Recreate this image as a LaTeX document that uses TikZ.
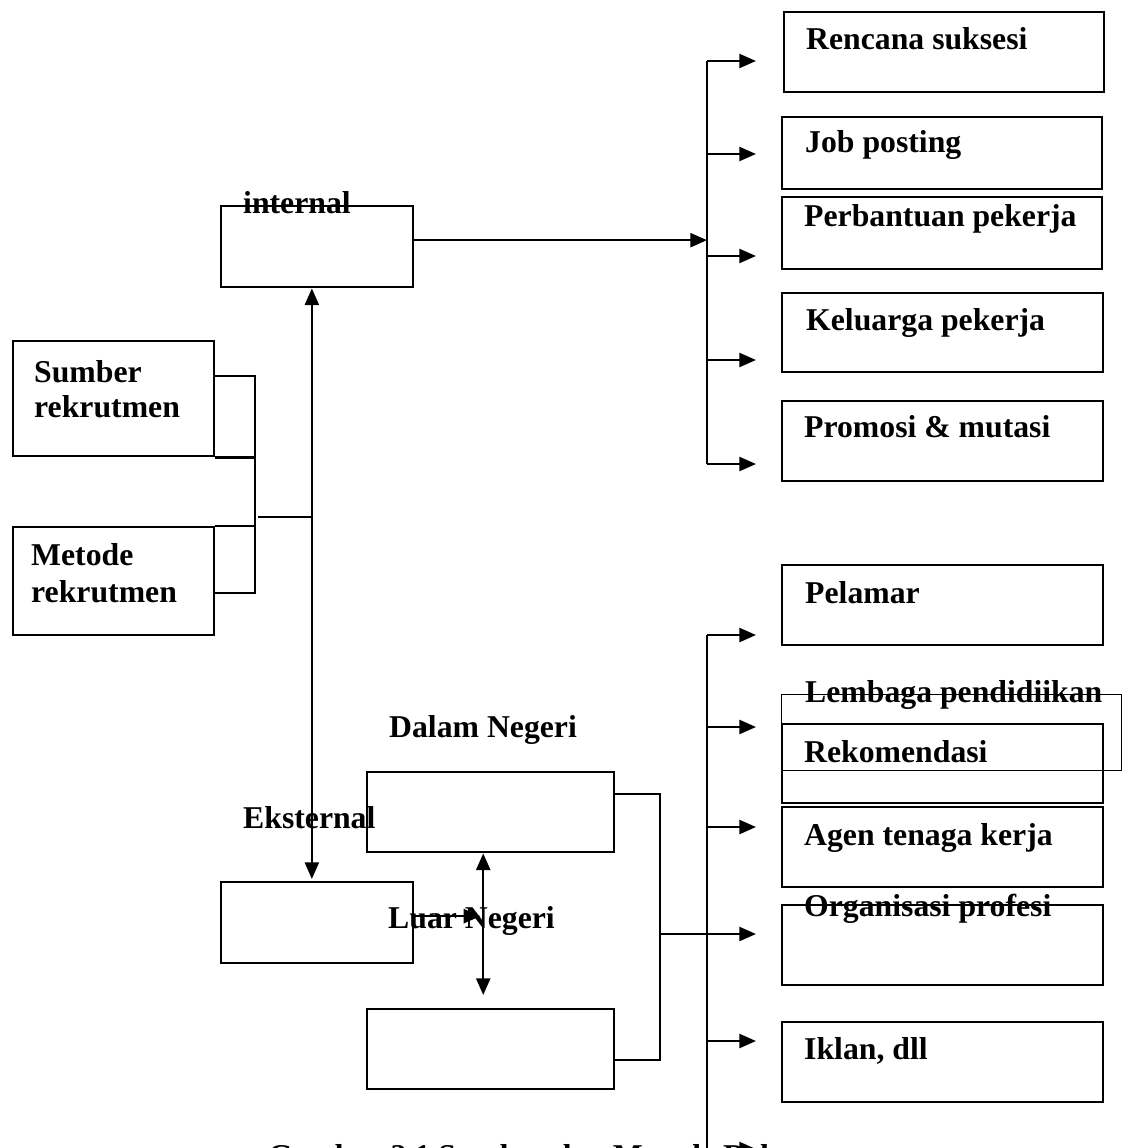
\documentclass[tikz,border=0pt]{standalone}
\usepackage{fontspec}
\setmainfont{Liberation Serif}
\usetikzlibrary{arrows.meta}

\tikzset{
  arr/.style={-{Triangle[length=12.5pt,width=10.5pt]}},
  arrboth/.style={{Triangle[length=12.5pt,width=10.5pt]}-{Triangle[length=12.5pt,width=10.5pt]}},
}

\begin{document}
\begin{tikzpicture}[x=0.75pt,y=-0.75pt,line width=1.8pt,
    font=\fontsize{23.8}{28}\selectfont\bfseries]

  \useasboundingbox (0,0) rectangle (1122,1148);

  % boxes
  \begin{scope}[every node/.style={draw,anchor=north west,inner sep=0pt}]
    \node[minimum width=144pt,minimum height=60.75pt] (internal) at (220,205) {};
    \node[minimum width=144pt,minimum height=60.75pt] (eksternal) at (220,881) {};
    \node[minimum width=150.75pt,minimum height=86.25pt] (sumber) at (12,340) {};
    \node[minimum width=150.75pt,minimum height=81pt] (metode) at (12,526) {};
    \node[minimum width=185.25pt,minimum height=60pt] (dalam) at (366,771) {};
    \node[minimum width=185.25pt,minimum height=60pt] (luar) at (366,1008) {};

    \node[minimum width=240pt,minimum height=60pt] (rencana) at (783,11) {};
    \node[minimum width=240pt,minimum height=54pt] (job) at (781,116) {};
    \node[minimum width=240pt,minimum height=54pt] (perbantuan) at (781,196) {};
    \node[minimum width=240.75pt,minimum height=59.25pt] (keluarga) at (781,292) {};
    \node[minimum width=240.75pt,minimum height=60pt] (promosi) at (781,400) {};

    \node[minimum width=240.75pt,minimum height=60pt] (pelamar) at (781,564) {};
    \node[line width=0.9pt,minimum width=255pt,minimum height=57pt] (lembaga) at (781,694) {};
    \node[minimum width=240.75pt,minimum height=59.25pt] (rekomendasi) at (781,723) {};
    \node[minimum width=240.75pt,minimum height=60pt] (agen) at (781,806) {};
    \node[minimum width=240.75pt,minimum height=60pt] (organisasi) at (781,904) {};
    \node[minimum width=240.75pt,minimum height=60pt] (iklan) at (781,1021) {};
  \end{scope}

  % labels
  \begin{scope}[every node/.style={anchor=base west,inner sep=0pt}]
    \node (internallbl) at (242,214) {internal};
    \node (eksternallbl) at (242,828) {Eksternal};
    \node (sumberlbl) at (33,382) {Sumber};
    \node (sumberlbl2) at (33,417) {rekrutmen};
    \node (metodelbl) at (30,565) {Metode};
    \node (metodelbl2) at (30,602) {rekrutmen};
    \node (dalamlbl) at (388,737) {Dalam Negeri};
    \node (luarlbl) at (387,928) {Luar Negeri};

    \node (rencanalbl) at (805,50) {Rencana suksesi};
    \node (joblbl) at (804,153) {Job posting};
    \node (perbantuanlbl) at (803,227) {Perbantuan pekerja};
    \node (keluargalbl) at (805,330) {Keluarga pekerja};
    \node (promosilbl) at (803,437) {Promosi \& mutasi};

    \node (pelamarlbl) at (804,603) {Pelamar};
    \node (lembagalbl) at (804,702) {Lembaga pendidiikan};
    \node (rekomendasilbl) at (803,762) {Rekomendasi};
    \node (agenlbl) at (803,845) {Agen tenaga kerja};
    \node (organisasilbl) at (803,916) {Organisasi profesi};
    \node (iklanlbl) at (803,1059) {Iklan, dll};

    \node (caption) at (267,1166) {Gambar 2.1 Sumber dan Metode Rekrutmen};
  \end{scope}

  % left bracket
  \coordinate (lb) at (255,517);
  \draw ([yshift=16.9pt]sumber.east) -| (lb) |- ([yshift=-9pt]metode.east);
  \draw (sumber.south east) -- (sumber.south east -| lb);
  \draw (metode.north east) -- (metode.north east -| lb);
  \draw[line width=1.1pt] ([xshift=2.25pt]lb) -- ([xshift=-4pt]lb -| internal.south);

  % internal / eksternal
  \draw[arrboth] ([xshift=-4pt]internal.south) -- ([xshift=-4pt,yshift=1.5pt]eksternal.north);
  \draw[arr] ([yshift=4.9pt]eksternal.east) -- ++(66,0);
  \draw[arrboth] ([xshift=-5.6pt]dalam.south) -- ([xshift=-5.6pt,yshift=9.75pt]luar.north);

  % upper branch
  \coordinate (itop) at (707,61);
  \coordinate (ibot) at (707,464);
  \draw[arr] ([yshift=4.9pt]internal.east) -- ([yshift=4.9pt]internal.east -| itop);
  \draw (itop) -- (ibot);
  \foreach \y in {61,154,256,360,464}
    \draw[arr] (itop |- 0,\y) -- ++(49,0);

  % lower branch
  \coordinate (rb) at (660,934);
  \draw ([yshift=13.5pt]dalam.east) -| (rb) |- ([yshift=-8.25pt]luar.east);
  \coordinate (etop) at (707,635);
  \coordinate (ebot) at (707,1170);
  \draw (etop) -- (ebot);
  \draw[arr] (rb) -- (rb -| 756,0);
  \foreach \y in {635,727,827,1041,1149}
    \draw[arr] (etop |- 0,\y) -- ++(49,0);

\end{tikzpicture}
\end{document}
